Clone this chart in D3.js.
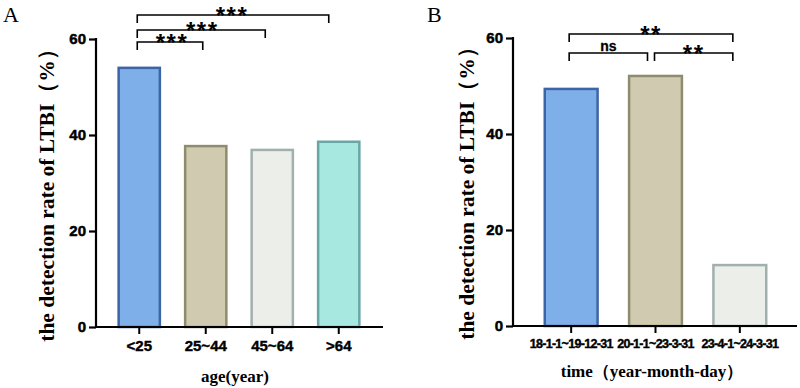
<!DOCTYPE html>
<html>
<head>
<meta charset="utf-8">
<script src="https://cdn.jsdelivr.net/npm/d3@7"></script>
<style>
  body { margin: 0; background: #fff; }
</style>
</head>
<body>
<div id="chart"></div>
<script>
// panel A: age groups
var ageGroups = ["<25", "25~44", "45~64", ">64"];
var ageRates = [54.2, 37.9, 37.1, 38.8];
var ageFill = ["#7eafe8", "#d0cab0", "#eceee9", "#a7e8e0"];
var ageStroke = ["#3d64a6", "#8f8c6e", "#a2afaf", "#69a7a6"];

// panel B: time periods
var periods = ["18-1-1~19-12-31", "20-1-1~23-3-31", "23-4-1~24-3-31"];
var periodRates = [49.6, 52.3, 12.9];
var periodFill = ["#7eafe8", "#d0cab0", "#eceee9"];
var periodStroke = ["#3d64a6", "#8f8c6e", "#a2afaf"];

var yTicks = [0, 20, 40, 60];

var sansBold = "'Liberation Sans', Arial, sans-serif";
var serif = "'Liberation Serif', 'Times New Roman', serif";

var w = 800, h = 388;

var svg = d3.select("#chart")
  .append("svg")
  .attr("width", w)
  .attr("height", h);

function drawPanel(opt) {
  var g = svg.append("g");

  var yscale = d3.scaleLinear()
    .domain([0, 60])
    .range([opt.y0, opt.y60]);

  var xscale = d3.scaleBand()
    .domain(opt.cats)
    .range(opt.band)
    .paddingInner(opt.pad)
    .paddingOuter(opt.pad / 2);

  // y axis
  var yaxis = d3.axisLeft(yscale)
    .tickValues(yTicks)
    .tickSize(7)
    .tickPadding(3);
  var ya = g.append("g")
    .attr("transform", "translate(" + opt.axisX + ",0)")
    .call(yaxis);
  ya.select(".domain").remove();
  ya.append("line")
    .attr("x1", 0).attr("x2", 0)
    .attr("y1", yscale(0)).attr("y2", yscale(60) - 1)
    .attr("stroke", "#000").attr("stroke-width", 2.2);
  ya.selectAll(".tick line").attr("stroke-width", 2.2);
  ya.selectAll(".tick text")
    .style("font-family", sansBold)
    .style("font-weight", "bold")
    .style("font-size", "15px")
    .attr("fill", "#000")
    .attr("stroke", "#000")
    .attr("stroke-width", 0.5);

  // bars
  g.selectAll("rect.bar")
    .data(opt.vals)
    .enter().append("rect")
    .attr("class", "bar")
    .attr("x", function(d, i) { return xscale(opt.cats[i]) + 1; })
    .attr("width", xscale.bandwidth() - 2)
    .attr("y", function(d) { return yscale(d) + 1; })
    .attr("height", function(d) { return yscale(0) - yscale(d) - 1; })
    .attr("fill", function(d, i) { return opt.fill[i]; })
    .attr("stroke", function(d, i) { return opt.stroke[i]; })
    .attr("stroke-width", 2.5);

  // x axis
  var xaxis = d3.axisBottom(xscale)
    .tickSize(7)
    .tickPadding(6);
  var xa = g.append("g")
    .attr("transform", "translate(0," + yscale(0) + ")")
    .call(xaxis);
  xa.select(".domain").remove();
  xa.append("line")
    .attr("x1", opt.axisX - 1).attr("x2", opt.axisEnd)
    .attr("y1", 0).attr("y2", 0)
    .attr("stroke", "#000").attr("stroke-width", 2.2);
  xa.selectAll(".tick line").attr("stroke-width", 2);
  xa.selectAll(".tick text")
    .style("font-family", sansBold)
    .style("font-weight", "bold")
    .style("font-size", opt.xFont)
    .style("letter-spacing", opt.xSpacing)
    .attr("fill", "#000")
    .attr("stroke", "#000")
    .attr("stroke-width", 0.4);

  // axis titles
  g.append("text")
    .attr("transform", "translate(" + opt.yTitleX + "," + opt.yTitleY + ") rotate(-90)")
    .attr("text-anchor", "middle")
    .style("font-family", serif)
    .style("font-size", "21.5px")
    .style("font-weight", "bold")
    .text("the detection rate of LTBI（%）");

  g.append("text")
    .attr("x", opt.xTitleX)
    .attr("y", opt.xTitleY)
    .attr("text-anchor", "middle")
    .style("font-family", serif)
    .style("font-size", "17px")
    .style("font-weight", "bold")
    .text(opt.xTitle);

  g.append("text")
    .attr("x", opt.letterX)
    .attr("y", 22)
    .style("font-family", serif)
    .style("font-size", "22px")
    .text(opt.letter);

  // significance brackets: [from, to, label, lineY, labelDy, dx1, dx2, labelDx]
  opt.sig.forEach(function(s) {
    var x1 = xscale(opt.cats[s[0]]) + xscale.bandwidth() / 2 + s[5];
    var x2 = xscale(opt.cats[s[1]]) + xscale.bandwidth() / 2 + s[6];
    var by = s[3];
    g.append("path")
      .attr("d", "M" + x1 + "," + (by + 8) + "V" + by + "H" + x2 + "V" + (by + 8))
      .attr("fill", "none")
      .attr("stroke", "#000")
      .attr("stroke-width", 1.6);
    var isNs = s[2] == "ns";
    g.append("text")
      .attr("x", (x1 + x2) / 2 + s[7])
      .attr("y", by + s[4])
      .attr("text-anchor", "middle")
      .style("font-family", sansBold)
      .style("font-weight", "bold")
      .style("font-size", isNs ? "14px" : "24px")
      .style("letter-spacing", isNs ? "0px" : "1.5px")
      .attr("stroke", "#000")
      .attr("stroke-width", isNs ? 0.3 : 0)
      .text(s[2]);
  });
}

drawPanel({
  cats: ageGroups, vals: ageRates, fill: ageFill, stroke: ageStroke,
  y0: 327, y60: 39, band: [106, 372], pad: 0.35,
  axisX: 96, axisEnd: 383, xFont: "15px", xSpacing: "0px",
  yTitleX: 54, yTitleY: 190,
  xTitle: "age(year)", xTitleX: 235, xTitleY: 382,
  letter: "A", letterX: 3,
  sig: [[0, 1, "***", 42, 9, -2, -3, 2], [0, 2, "***", 30, 9, -2, -7, 1], [0, 3, "***", 15, 9, -2, -10, -1]]
});

drawPanel({
  cats: periods, vals: periodRates, fill: periodFill, stroke: periodStroke,
  y0: 326, y60: 38, band: [529, 782], pad: 0.35,
  axisX: 513, axisEnd: 797, xFont: "12.5px", xSpacing: "-0.7px",
  yTitleX: 474, yTitleY: 188,
  xTitle: "time（year-month-day）", xTitleX: 652, xTitleY: 377,
  letter: "B", letterX: 427,
  sig: [[0, 1, "ns", 53, -2, -2, -8, 0], [1, 2, "**", 53, 9, -1, -7, 0], [0, 2, "**", 34, 9, -2, -7, 0]]
});
</script>
</body>
</html>
